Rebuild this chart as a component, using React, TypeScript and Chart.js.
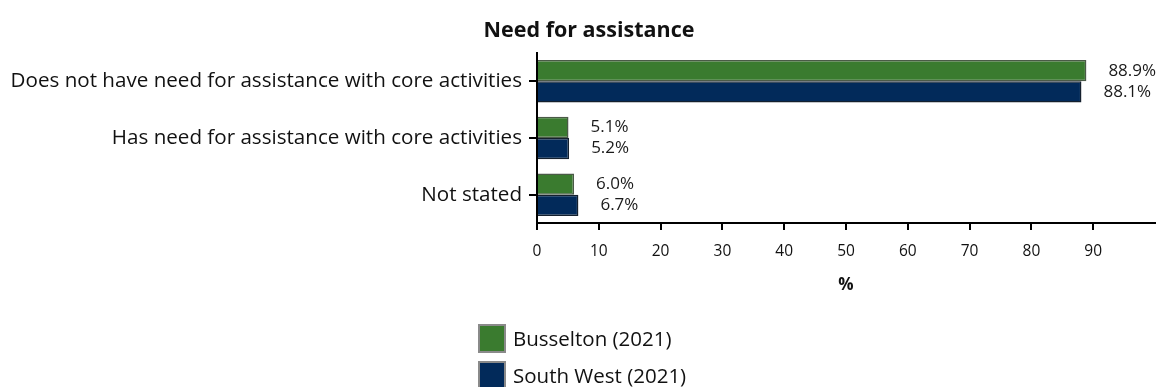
import React, { useEffect, useRef } from "react";
import { Chart, registerables } from "chart.js";

Chart.register(...registerables);

const categories = [
  "Does not have need for assistance with core activities",
  "Has need for assistance with core activities",
  "Not stated",
];
const busseltonValues = [88.9, 5.1, 6.0];
const southWestValues = [88.1, 5.2, 6.7];
const seriesNames = ["Busselton (2021)", "South West (2021)"];
const xTicks = [0, 10, 20, 30, 40, 50, 60, 70, 80, 90];
const chartTitle = "Need for assistance";
const xTitle = "%";

const FONT = "'Open Sans', 'Noto Sans', sans-serif";
const GREEN = "#3a7b2f";
const GREEN_BORDER = "#4a5a47";
const BLUE = "#022a5a";
const BLUE_BORDER = "#14202e";

const labelPlugin = {
  id: "valueLabels",
  afterDatasetsDraw(chart: any) {
    const ctx = chart.ctx;
    ctx.save();
    ctx.font = `17px ${FONT}`;
    ctx.fillStyle = "#1a1a1a";
    ctx.textAlign = "left";
    ctx.textBaseline = "middle";
    chart.data.datasets.forEach((ds: any, di: number) => {
      const meta = chart.getDatasetMeta(di);
      meta.data.forEach((el: any, i: number) => {
        const v = ds.data[i];
        ctx.fillText(v.toFixed(1) + "%", el.x + 22, el.y);
      });
    });
    ctx.restore();
  },
};

const titleLegendPlugin = {
  id: "titleLegend",
  afterDraw(chart: any) {
    const ctx = chart.ctx;
    ctx.save();
    ctx.font = `bold 21.5px ${FONT}`;
    ctx.fillStyle = "#111";
    ctx.textAlign = "center";
    ctx.textBaseline = "middle";
    ctx.fillText(chartTitle, 589, 31);

    ctx.font = `20.5px ${FONT}`;
    ctx.textAlign = "left";
    chart.data.datasets.forEach((ds: any, i: number) => {
      const y = 325 + i * 37;
      ctx.fillStyle = ds.backgroundColor;
      ctx.fillRect(479, y, 26, 27);
      ctx.strokeStyle = "#8a8a8a";
      ctx.lineWidth = 2;
      ctx.strokeRect(479, y, 26, 27);
      ctx.fillStyle = "#111";
      ctx.fillText(ds.label, 513, y + 15);
    });
    ctx.restore();
  },
};

export default function App() {
  const ref = useRef<HTMLCanvasElement | null>(null);
  useEffect(() => {
    if (!ref.current) return;
    const chart = new Chart(ref.current, {
      type: "bar",
      data: {
        labels: categories,
        datasets: [
          {
            label: seriesNames[0],
            data: busseltonValues,
            backgroundColor: GREEN,
            borderColor: GREEN_BORDER,
            borderWidth: 1.5,
            barPercentage: 1,
            categoryPercentage: 0.75,
          },
          {
            label: seriesNames[1],
            data: southWestValues,
            backgroundColor: BLUE,
            borderColor: BLUE_BORDER,
            borderWidth: 1.5,
            barPercentage: 1,
            categoryPercentage: 0.75,
          },
        ],
      },
      options: {
        indexAxis: "y",
        animation: false,
        responsive: true,
        maintainAspectRatio: false,
        layout: { padding: { top: 53, right: 3, bottom: 92, left: 0 } },
        plugins: {
          legend: { display: false },
          title: { display: false },
          tooltip: { enabled: false },
        },
        scales: {
          x: {
            type: "linear",
            min: 0,
            max: 100,
            afterBuildTicks: (scale: any) => {
              scale.ticks = xTicks.map((v) => ({ value: v }));
            },
            afterFit: (scale: any) => {
              scale.height = 72;
            },
            ticks: {
              color: "#111",
              font: { family: FONT, size: 15.5 },
              padding: 12,
              maxRotation: 0,
              autoSkip: false,
            },
            grid: {
              display: true,
              drawOnChartArea: false,
              drawTicks: true,
              tickLength: 7,
              color: "#000",
              lineWidth: 2,
            },
            border: { display: true, color: "#000", width: 2 },
            title: {
              display: true,
              text: xTitle,
              color: "#111",
              font: { family: FONT, size: 17, weight: "bold" },
              padding: { top: 0, bottom: 0 },
            },
          },
          y: {
            afterFit: (scale: any) => {
              scale.width = 537;
            },
            ticks: {
              color: "#111",
              font: { family: FONT, size: 20.6 },
              padding: 7,
              autoSkip: false,
            },
            grid: {
              display: true,
              drawOnChartArea: false,
              drawTicks: true,
              tickLength: 8,
              color: "#000",
              lineWidth: 2,
              offset: false,
            },
            border: { display: true, color: "#000", width: 2 },
          },
        },
      },
      plugins: [labelPlugin, titleLegendPlugin],
    } as any);
    return () => chart.destroy();
  }, []);

  return (
    <div style={{ position: "fixed", left: 0, top: 0, width: 1158, height: 387, background: "#fff" }}>
      <canvas ref={ref} />
    </div>
  );
}
